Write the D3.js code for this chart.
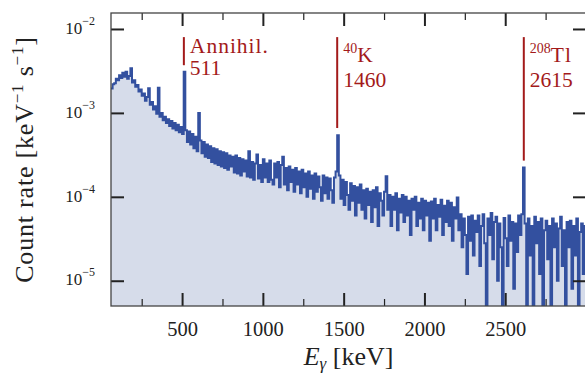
<!DOCTYPE html>
<html>
<head>
<meta charset="utf-8">
<script src="https://cdn.jsdelivr.net/npm/d3@7"></script>
<style>
  html, body { margin: 0; padding: 0; background: #fff; }
  svg { display: block; }
  svg text { font-family: "Liberation Serif", serif; }
</style>
</head>
<body>
<svg id="chart" width="585" height="373"></svg>
<script>
// gamma background spectrum, 10 keV bins starting at 60 keV
// count rate in units of 1e-6 keV^-1 s^-1 (0 = empty bin)
const BIN0 = 60, BINW = 10;
const rate = [
  1950,2200,2250,2550,2450,2800,2600,3000,2700,3100,
  2550,2750,3400,2300,2450,2050,2150,1800,1900,1600,
  1700,1400,1550,1960,1250,1350,1100,1200,980,2000,
  900,1000,820,900,760,840,700,800,650,760,
  620,720,590,680,560,3100,620,450,600,420,
  560,380,520,350,1000,470,330,450,300,420,
  290,400,260,380,250,370,240,350,230,340,
  220,330,210,310,230,300,195,310,190,290,
  180,280,200,270,175,350,170,260,160,250,
  320,165,240,150,280,170,250,150,270,160,
  140,250,170,260,130,240,300,140,220,120,
  230,150,210,115,220,140,200,110,210,130,
  190,100,200,125,180,95,190,115,175,130,
  90,180,110,170,95,165,120,85,170,200,
  540,180,95,160,80,150,105,70,145,90,
  135,60,130,85,140,70,120,55,125,80,
  115,50,120,75,130,45,110,90,60,115,
  176,70,105,45,100,70,110,40,95,65,
  105,50,100,60,90,35,95,70,100,45,
  85,55,95,40,90,60,85,30,88,55,
  95,40,80,58,92,35,78,50,90,45,
  85,30,75,55,98,40,62,25,55,35,
  12,58,30,60,20,52,38,60,15,45,
  62,28,0,55,35,64,18,50,58,10,
  48,25,0,56,32,15,60,30,50,8,
  48,22,60,35,62,224,48,0,55,20,
  45,0,58,28,50,12,55,0,40,52,
  18,45,0,55,25,48,10,42,58,15,
  40,0,50,25,52,8,45,20,55,0,
  38,48,12,45
];
const UNIT = 1e-6;

const xTicks = [500, 1000, 1500, 2000, 2500];
const xMinor = [250, 750, 1250, 1750, 2250, 2750];
const yTicks = [1e-5, 1e-4, 1e-3, 1e-2];
const yExp = ['−5', '−4', '−3', '−2'];

// lines: energy, label rows, superscript, line top / bottom (count rate)
const lines = [
  { e: 511,  sup: null,  name: 'Annihil.', val: '511',  top: 8e-3, bot: 3.7e-3 },
  { e: 1460, sup: '40',  name: 'K',        val: '1460', top: 8e-3, bot: 6.6e-4 },
  { e: 2615, sup: '208', name: 'Tl',       val: '2615', top: 8e-3, bot: 2.7e-4 }
];

const L = 111, R = 586, T = 13, B = 306;
const LINE = '#33509f', FILL = '#d6dcea', RED = '#a31a1a', INK = '#222';
const SERIF = '"Liberation Serif", serif';

const svg = d3.select('#chart');
const x = d3.scaleLinear().domain([60, 3000]).range([L, R]);
const y = d3.scaleLog().domain([5e-6, 1.55e-2]).range([B, T]);

const pts = rate.map((v, i) => ({ e: BIN0 + i * BINW, v: v * UNIT }));
pts.push({ e: BIN0 + rate.length * BINW, v: rate[rate.length - 1] * UNIT });
const yv = d => y(Math.max(d.v, 5e-6));

svg.append('clipPath').attr('id', 'clip').append('rect')
  .attr('x', L).attr('y', T).attr('width', R - L).attr('height', B - T);
const gData = svg.append('g').attr('clip-path', 'url(#clip)');

gData.append('path').datum(pts)
  .attr('fill', FILL)
  .attr('d', d3.area().curve(d3.curveStepAfter).x(d => x(d.e)).y0(B).y1(yv));
gData.append('path').datum(pts)
  .attr('fill', 'none').attr('stroke', LINE).attr('stroke-width', 2)
  .attr('d', d3.line().curve(d3.curveStepAfter).x(d => x(d.e)).y(yv));

// annotations
lines.forEach(a => {
  const px = x(a.e), py = y(a.top);
  svg.append('line').attr('x1', px).attr('x2', px).attr('y1', py).attr('y2', y(a.bot))
    .attr('stroke', RED).attr('stroke-width', 2);
  const b1 = a.sup ? py + 25 : py + 16, b2 = a.sup ? b1 + 25 : b1 + 22;
  const t = svg.append('text').attr('x', px + 6).attr('y', b1).attr('font-family', SERIF)
    .attr('fill', RED).attr('font-size', 21.5);
  if (a.sup) t.append('tspan').attr('font-size', 14).attr('dy', -9).text(a.sup);
  t.append('tspan').attr('dy', a.sup ? 9 : 0).attr('letter-spacing', 1).text(a.name);
  svg.append('text').attr('x', px + 6).attr('y', b2).attr('font-family', SERIF)
    .attr('fill', RED).attr('font-size', 21.5).text(a.val);
});

// axes: ticks inward on all sides
function style(g, w) {
  g.attr('font-family', SERIF).attr('font-size', null);
  g.select('.domain').remove();
  g.selectAll('line').attr('stroke', INK).attr('stroke-width', w);
}
svg.append('g').attr('transform', `translate(0,${B})`)
  .call(d3.axisBottom(x).tickValues(xTicks).tickSizeInner(-13).tickSizeOuter(0).tickPadding(15).tickFormat(d3.format('d')))
  .call(g => { style(g, 2); g.selectAll('text').attr('font-size', 20.5).attr('fill', INK); });
svg.append('g').attr('transform', `translate(0,${B})`)
  .call(d3.axisBottom(x).tickValues(xMinor).tickSizeInner(-7).tickSizeOuter(0).tickFormat(''))
  .call(g => style(g, 1.2));
svg.append('g').attr('transform', `translate(0,${T})`)
  .call(d3.axisTop(x).tickValues(xTicks).tickSizeInner(-13).tickSizeOuter(0).tickFormat(''))
  .call(g => style(g, 2));
svg.append('g').attr('transform', `translate(0,${T})`)
  .call(d3.axisTop(x).tickValues(xMinor).tickSizeInner(-7).tickSizeOuter(0).tickFormat(''))
  .call(g => style(g, 1.2));
svg.append('g').attr('transform', `translate(${R},0)`)
  .call(d3.axisRight(y).tickValues(yTicks).tickSizeInner(-13).tickSizeOuter(0).tickFormat(''))
  .call(g => style(g, 2));
svg.append('g').attr('transform', `translate(${L},0)`)
  .call(d3.axisLeft(y).tickValues(yTicks).tickSizeInner(-13).tickSizeOuter(0).tickPadding(16).tickFormat(''))
  .call(g => {
    style(g, 2);
    g.selectAll('text').each(function (d, i) {
      const t = d3.select(this).attr('font-size', 17).attr('fill', INK).attr('dy', '0.25em');
      t.append('tspan').text('10');
      t.append('tspan').attr('font-size', 12).attr('dy', '-0.75em').text(yExp[i]);
    });
  });

svg.append('rect').attr('x', L).attr('y', T).attr('width', R - L).attr('height', B - T)
  .attr('fill', 'none').attr('stroke', '#444').attr('stroke-width', 1.3);

// axis titles
const yl = svg.append('text').attr('transform', `translate(33,${(T + B) / 2}) rotate(-90)`)
  .attr('text-anchor', 'middle').attr('font-size', 26).attr('letter-spacing', 0.8).attr('fill', INK);
yl.append('tspan').text('Count rate [keV');
yl.append('tspan').attr('font-size', 17).attr('dy', -10).text('−1');
yl.append('tspan').attr('dy', 10).text(' s');
yl.append('tspan').attr('font-size', 17).attr('dy', -10).text('−1');
yl.append('tspan').attr('dy', 10).text(']');

const xl = svg.append('text').attr('x', (L + R) / 2).attr('y', 365)
  .attr('text-anchor', 'middle').attr('font-size', 26).attr('fill', INK);
xl.append('tspan').attr('font-style', 'italic').text('E');
xl.append('tspan').attr('font-style', 'italic').attr('font-size', 17).attr('dy', 4).text('γ');
xl.append('tspan').attr('dy', -4).text(' [keV]');
</script>
</body>
</html>
